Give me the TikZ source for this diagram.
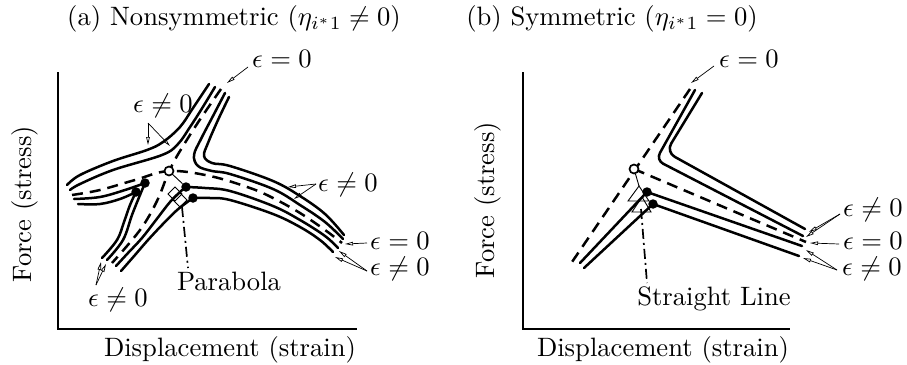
\documentclass[tikz,border=0pt]{standalone}
\usetikzlibrary{arrows.meta}
\tikzset{
 crv/.style={line width=2.5pt, line cap=round, line join=round},
 dsh/.style={line width=2.5pt, dash pattern=on 11pt off 7pt},
 axisl/.style={line width=1.5pt},
 ann/.style={line width=0.7pt, -{Triangle[open,length=8pt,width=3.6pt]}},
 lbl/.style={font=\normalsize, inner sep=0pt, scale=2.66},
 ddash/.style={line width=1.7pt, dash pattern=on 10pt off 4pt on 2pt off 4pt},
 limpt/.style={circle, fill=black, inner sep=0pt, minimum size=9.5pt},
 bif/.style={circle, draw, fill=white, line width=1.7pt, minimum size=9pt, inner sep=0pt},
 thinl/.style={line width=0.9pt},
 mk/.style={line width=0.9pt, line join=miter}
}
\begin{document}
\begin{tikzpicture}[x=1pt,y=-1pt]
\useasboundingbox (0,0) rectangle (907,364);

% ================= panel (a) =================
\coordinate (a0) at (58,329); \coordinate (ay) at (58,72); \coordinate (ax) at (357,329);
\draw[axisl] (ay) -- (a0) -- (ax);
\node[lbl, rotate=90] (afy) at (25,204) {Force (stress)};
\node[lbl] (afx) at (230,350) {Displacement (strain)};
\node[lbl] (ta) at (234,19) {(a) Nonsymmetric ($\eta_{i^*1}\neq 0$)};

% perfect paths
\draw[dsh] plot[smooth, tension=0.6] coordinates {(221,89) (197,124) (177,156) (169,171) (157,201) (140,230) (112,263)};
\draw[dsh] plot[smooth, tension=0.6] coordinates {(72,195) (100,190) (135,180) (169,171) (210,176) (250,188) (273,198) (300,213) (325,230) (342,243)};
% imperfect paths
\draw[crv] plot[smooth, tension=0.6] coordinates {(209,84) (193,108) (180,127) (163,142) (147,150) (113,161) (80,175) (67,185)};
\draw[crv] plot[smooth, tension=0.6] coordinates {(215,87) (201,110) (190,127) (178,144) (162,155) (113,170) (80,184) (70,190)};
\draw[crv] plot[smooth, tension=0.6] coordinates {(229,97) (218,120) (208,143) (204,156) (212,163) (230,166) (273,181) (300,196) (325,214) (344,235)};
\draw[crv] plot[smooth, tension=0.6] coordinates {(225,93) (213,116) (201,139) (194,155) (198,166) (212,171) (230,174) (273,189) (300,205) (325,222) (343,239)};
\draw[crv] plot[smooth, tension=0.6] coordinates {(116,266) (128,253) (142,238) (156,220) (170,202) (180,192) (186,187)}
           plot[smooth, tension=0.6] coordinates {(186,187) (205,188) (230,191) (273,206) (300,220) (325,236) (338,248)};
\draw[crv] plot[smooth, tension=0.6] coordinates {(121,271) (135,255) (148,240) (162,225) (176,211) (186,203) (193,198)}
           plot[smooth, tension=0.6] coordinates {(193,198) (210,198) (230,200) (273,214) (300,227) (320,240) (333,252)};
\draw[crv] plot[smooth, tension=0.6] coordinates {(74,199) (100,197) (125,190) (145,183)}
           plot[smooth, tension=0.6] coordinates {(145,183) (140,195) (132,215) (123,240) (107,260)};
\draw[crv] plot[smooth, tension=0.6] coordinates {(78,204) (100,204) (120,199) (136,192)}
           plot[smooth, tension=0.6] coordinates {(136,192) (130,205) (124,222) (117,240) (102,258)};

% markers
\node[limpt] (la1) at (186,187) {};
\node[limpt] (la2) at (193,198) {};
\node[limpt] (la3) at (145,183) {};
\node[limpt] (la4) at (136,192) {};
\draw[mk] (175,187) -- (182,194) -- (175,201) -- (168,194) -- cycle;
\draw[mk] (180,193) -- (187,200) -- (180,207) -- (173,200) -- cycle;
\node[bif] (Ba) at (169,171) {};
\draw[thinl] (Ba) -- (la1);
\coordinate (pa1) at (182,207); \coordinate (pa2) at (188,268);
\draw[ddash] (pa1) -- (pa2);
\node[lbl] (para) at (229,281) {Parabola};

% labels (a)
\node[lbl] (ea1) at (282,59) {$\epsilon=0$};
\coordinate (ea1s) at (248,67); \coordinate (ea1t) at (227,83);
\draw[ann] (ea1s) -- (ea1t);
\node[lbl] (ea2) at (163,106) {$\epsilon\neq0$};
\coordinate (ea2s) at (148,123); \coordinate (ea2t) at (148,145); \coordinate (ea2u) at (170,146);
\draw[ann] (ea2s) -- (ea2t); \draw[ann] (ea2s) -- (ea2u);
\node[lbl] (ea3) at (348,185) {$\epsilon\neq0$};
\coordinate (ea3s) at (316,184); \coordinate (ea3t) at (288,187); \coordinate (ea3u) at (294,199);
\draw[ann] (ea3s) -- (ea3t); \draw[ann] (ea3s) -- (ea3u);
\node[lbl] (ea4) at (400,241) {$\epsilon=0$};
\coordinate (ea4s) at (367,243); \coordinate (ea4t) at (345,244);
\draw[ann] (ea4s) -- (ea4t);
\node[lbl] (ea5) at (400,269) {$\epsilon\neq0$};
\coordinate (ea5s) at (367,271); \coordinate (ea5t) at (339,251); \coordinate (ea5u) at (335,257);
\draw[ann] (ea5s) -- (ea5t); \draw[ann] (ea5s) -- (ea5u);
\node[lbl] (ea6) at (118,300) {$\epsilon\neq0$};
\coordinate (ea6s) at (96,285); \coordinate (ea6t) at (101,262); \coordinate (ea6u) at (106,264);
\draw[ann] (ea6s) -- (ea6t); \draw[ann] (ea6s) -- (ea6u);

% ================= panel (b) =================
\coordinate (b0) at (523,329); \coordinate (by) at (523,72); \coordinate (bx) at (790,329);
\draw[axisl] (by) -- (b0) -- (bx);
\node[lbl, rotate=90] (bfy) at (488,200) {Force (stress)};
\node[lbl] (bfx) at (663,350) {Displacement (strain)};
\node[lbl] (tb) at (612,19) {(b) Symmetric ($\eta_{i^*1}=0$)};

\coordinate (Bb) at (634,169);
\coordinate (d1t) at (690,89); \coordinate (d1b) at (572,262); \coordinate (d2r) at (806,242);
\draw[dsh] (d1t) -- (d1b);
\draw[dsh] (Bb) -- (d2r);
\draw[crv, rounded corners=10pt] (702,93) -- (666,152) -- (805,229);
\draw[crv, rounded corners=8pt] (695,90) -- (656,160) -- (803,236);
\draw[crv, rounded corners=3pt] (580,263) -- (647,192) -- (802,246);
\draw[crv, rounded corners=3pt] (584,268) -- (653,204) -- (799,256);

\draw[mk] (639,186) -- (649,201) -- (628,201) -- cycle;
\draw[mk] (642,197) -- (651,212) -- (632,212) -- cycle;
\node[limpt] (lb1) at (647,192) {};
\node[limpt] (lb2) at (653,204) {};
\node[bif] (Bbn) at (Bb) {};
\coordinate (tbap) at (639,186);
\draw[thinl] (Bbn) -- (tbap);
\coordinate (pb1) at (641,209); \coordinate (pb2) at (647,283);
\draw[ddash] (pb1) -- (pb2);
\node[lbl] (strl) at (714,299) {Straight Line};

% labels (b)
\node[lbl] (eb1) at (749,59) {$\epsilon=0$};
\coordinate (eb1s) at (714,66); \coordinate (eb1t) at (691,83);
\draw[ann] (eb1s) -- (eb1t);
\node[lbl] (eb2) at (873,210) {$\epsilon\neq0$};
\coordinate (eb2s) at (840,214); \coordinate (eb2t) at (809,232); \coordinate (eb2u) at (806,237);
\draw[ann] (eb2s) -- (eb2t); \draw[ann] (eb2s) -- (eb2u);
\node[lbl] (eb3) at (873,241) {$\epsilon=0$};
\coordinate (eb3s) at (839,244); \coordinate (eb3t) at (810,243);
\draw[ann] (eb3s) -- (eb3t);
\node[lbl] (eb4) at (872,269) {$\epsilon\neq0$};
\coordinate (eb4s) at (837,270); \coordinate (eb4t) at (806,250); \coordinate (eb4u) at (803,258);
\draw[ann] (eb4s) -- (eb4t); \draw[ann] (eb4s) -- (eb4u);
\end{tikzpicture}
\end{document}
